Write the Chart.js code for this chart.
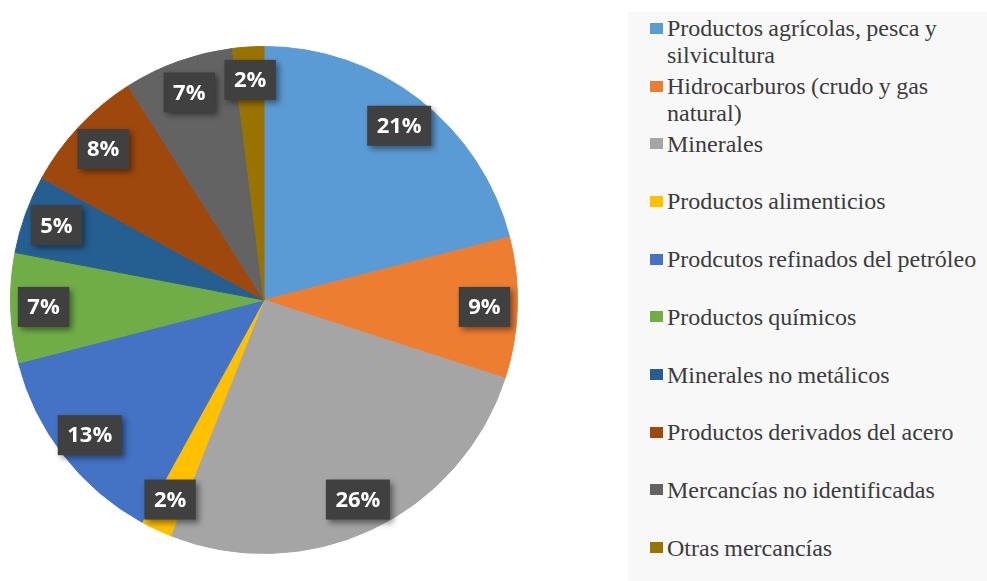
<!DOCTYPE html>
<html>
<head>
<meta charset="utf-8">
<script src="https://cdn.jsdelivr.net/npm/chart.js@4.4.1/dist/chart.umd.min.js"></script>
<style>
    html, body { margin: 0; padding: 0; background: #ffffff; }
    #wrap { position: relative; width: 987px; height: 581px; overflow: hidden; }
    #pieBox { position: absolute; left: 10px; top: 46px; width: 508px; height: 508px; }
    #legend {
        position: absolute; left: 628px; top: 12px; width: 359px; height: 569px;
        background: #f8f8f8; padding-top: 3.4px; box-sizing: border-box;
    }
    .item { position: relative; height: 57.7px; padding-left: 39px;
        font-family: 'Liberation Serif', serif; font-size: 24px; word-spacing: -0.7px;
        line-height: 27px; color: #3c3c3c; white-space: nowrap; }
    .item .sw { position: absolute; left: 22px; top: 7.6px; width: 13px; height: 11px; }
</style>
</head>
<body>
<div id="wrap">
    <div id="pieBox"><canvas id="pieChart"></canvas></div>
    <div id="legend"></div>
</div>
<script>
// categories, shares (%) and slice colours
const categories = [
    ['Productos agrícolas, pesca y', 'silvicultura'],
    ['Hidrocarburos (crudo y gas', 'natural)'],
    ['Minerales'],
    ['Productos alimenticios'],
    ['Prodcutos refinados del petróleo'],
    ['Productos químicos'],
    ['Minerales no metálicos'],
    ['Productos derivados del acero'],
    ['Mercancías no identificadas'],
    ['Otras mercancías']
];
const shares = [21, 9, 26, 2, 13, 7, 5, 8, 7, 2];
const colors = ['#5b9bd5', '#ed7d31', '#a5a5a5', '#ffc000', '#4472c4',
                '#70ad47', '#255e91', '#9e480e', '#636363', '#997300'];

// percent boxes drawn on each slice
const sliceLabels = {
    id: 'sliceLabels',
    afterDatasetsDraw(chart) {
        const ctx = chart.ctx;
        const meta = chart.getDatasetMeta(0);
        ctx.save();
        ctx.font = 'bold 22px "Open Sans", sans-serif';
        ctx.textAlign = 'center';
        ctx.textBaseline = 'middle';
        meta.data.forEach(function(arc, i) {
            const p = arc.getProps(['x', 'y', 'startAngle', 'endAngle', 'outerRadius'], true);
            const mid = (p.startAngle + p.endAngle) / 2;
            const r = p.outerRadius * 0.87;
            const x = p.x + Math.cos(mid) * r;
            const y = p.y + Math.sin(mid) * r;
            const text = shares[i] + '%';
            const w = ctx.measureText(text).width + 19;
            const h = 40;
            ctx.shadowColor = 'rgba(0,0,0,0.45)';
            ctx.shadowBlur = 6;
            ctx.shadowOffsetX = 3;
            ctx.shadowOffsetY = 3;
            ctx.fillStyle = '#404040';
            ctx.fillRect(x - w / 2, y - h / 2, w, h);
            ctx.shadowColor = 'transparent';
            ctx.fillStyle = '#ffffff';
            ctx.fillText(text, x, y + 1);
        });
        ctx.restore();
    }
};

new Chart(document.getElementById('pieChart').getContext('2d'), {
    type: 'pie',
    data: {
        labels: categories.map(c => c.join(' ')),
        datasets: [{
            data: shares,
            backgroundColor: colors,
            borderColor: colors,
            borderWidth: 1,
            hoverOffset: 0
        }]
    },
    options: {
        responsive: true,
        maintainAspectRatio: false,
        animation: false,
        layout: { padding: 0 },
        plugins: {
            legend: { display: false },
            tooltip: { enabled: false }
        }
    },
    plugins: [sliceLabels]
});

// legend on the right
const legend = document.getElementById('legend');
categories.forEach(function(lines, i) {
    const item = document.createElement('div');
    item.className = 'item';
    const sw = document.createElement('span');
    sw.className = 'sw';
    sw.style.background = colors[i];
    item.appendChild(sw);
    lines.forEach(function(line, j) {
        if (j > 0) item.appendChild(document.createElement('br'));
        item.appendChild(document.createTextNode(line));
    });
    legend.appendChild(item);
});
</script>
</body>
</html>
